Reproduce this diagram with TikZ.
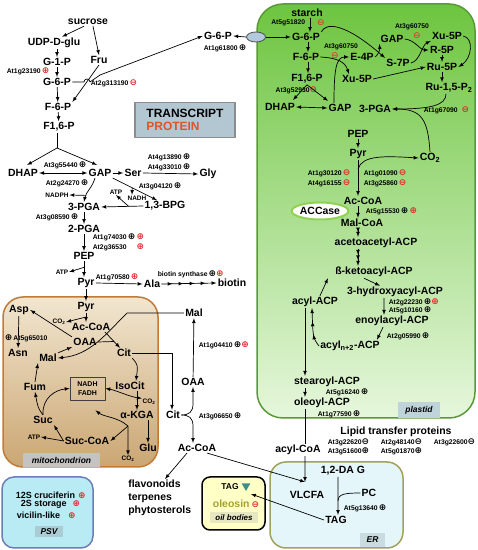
\documentclass[tikz,border=0pt]{standalone}
\usepackage{fontspec}
\setmainfont{Liberation Sans}
\newfontfamily\symbfont{DejaVu Sans}
\usetikzlibrary{shapes.geometric,decorations.markings,calc}
\definecolor{symred}{HTML}{E3262B}
\definecolor{protcol}{HTML}{E0532A}
\definecolor{plastidtop}{HTML}{6DC53F}
\definecolor{plastidbot}{HTML}{E6F7DC}
\definecolor{plastidline}{HTML}{5A9A36}
\definecolor{mitotop}{HTML}{F1E6D0}
\definecolor{mitobot}{HTML}{CBA673}
\definecolor{mitoline}{HTML}{C27B35}
\definecolor{erfill}{HTML}{E5F6FB}
\definecolor{erline}{HTML}{A3A25C}
\definecolor{psvfill}{HTML}{B9EBF5}
\definecolor{psvline}{HTML}{6C7EB6}
\definecolor{oilfill}{HTML}{FFFFC6}
\definecolor{oleosincol}{HTML}{A3A32A}
\definecolor{tagcol}{HTML}{3E8F8C}
\definecolor{legendfill}{HTML}{B3C7D3}
\definecolor{lblplastid}{HTML}{BFD3DB}
\definecolor{lblmito}{HTML}{C3C3C3}
\definecolor{lbler}{HTML}{C9DDE0}
\definecolor{lblpsv}{HTML}{A9CCD5}
\definecolor{lbloil}{HTML}{E7E8C2}
\definecolor{accasecol}{HTML}{8FD150}
\definecolor{ovalfill}{HTML}{B2CADB}
\newcommand{\symTp}{{\symbfont\fontsize{9}{9}\selectfont\textcolor{black}{⊕}}}
\newcommand{\symTm}{{\symbfont\fontsize{9}{9}\selectfont\textcolor{black}{⊖}}}
\newcommand{\symPp}{{\symbfont\fontsize{9}{9}\selectfont\textcolor{symred}{⊕}}}
\newcommand{\symPm}{{\symbfont\fontsize{9}{9}\selectfont\textcolor{symred}{⊖}}}
\tikzset{
  met/.style={font=\fontsize{10.5}{12}\selectfont\bfseries,inner sep=1bp},
  gene/.style={font=\fontsize{6.8}{8}\selectfont\bfseries,inner sep=0.5bp,anchor=west},
  cofactor/.style={font=\fontsize{6.5}{7.5}\selectfont\bfseries,inner sep=0.5bp},
  psvitem/.style={font=\fontsize{9}{10}\selectfont\bfseries,inner sep=0.5bp,anchor=west},
  boxlabel/.style={font=\fontsize{8.5}{10}\selectfont\bfseries\itshape,inner sep=0bp},
  multistep/.style={postaction={decorate},decoration={markings,mark=between positions #1 and 0.95 step #1 with {\arrow{latex}}}},
}
\begin{document}
\begin{tikzpicture}[>=latex,line join=bevel,line width=0.7bp]
\useasboundingbox (0bp,0bp) rectangle (478bp,550bp);
%% compartments
\draw [rounded corners=26bp,line width=1.5bp,draw=plastidline,top color=plastidtop,bottom color=plastidbot] (257bp,132bp) rectangle (475bp,546bp);
\draw [rounded corners=20bp,line width=1.5bp,draw=mitoline,top color=mitotop,bottom color=mitobot] (3bp,83bp) rectangle (158bp,253bp);
\draw [rounded corners=16bp,line width=1.5bp,draw=erline,fill=erfill] (270bp,2bp) rectangle (403bp,88bp);
\draw [rounded corners=12bp,line width=1.5bp,draw=psvline,fill=psvfill] (2bp,2bp) rectangle (93bp,73bp);
\draw [rounded corners=8bp,line width=1.5bp,draw=black,fill=oilfill] (202bp,20bp) rectangle (265bp,73bp);
\node (node_plastid) at (419bp,140bp) [boxlabel,fill=lblplastid,minimum width=42bp,minimum height=16bp] {plastid};
\node (node_mito) at (61.5bp,90bp) [boxlabel,fill=lblmito,minimum width=77bp,minimum height=14bp] {mitochondrion};
\node (node_er) at (372.5bp,10bp) [boxlabel,fill=lbler,minimum width=25bp,minimum height=14bp] {ER};
\node (node_psv) at (49bp,18bp) [boxlabel,fill=lblpsv,minimum width=28bp,minimum height=11bp] {PSV};
\node (node_oil) at (234bp,32.5bp) [boxlabel,fill=lbloil,font=\fontsize{8}{9}\selectfont\bfseries\itshape,minimum width=48bp,minimum height=11bp] {oil bodies};
\node (node_legend) at (185bp,430bp) [draw=black!45,line width=1.5bp,fill=legendfill,minimum width=100bp,minimum height=35bp,align=left,font=\fontsize{12}{13}\selectfont\bfseries] {TRANSCRIPT\\\textcolor{protcol}{PROTEIN}};
%% cytosol
\node (node_sucrose) at (88bp,528bp) [met] {sucrose};
\node (node_udpglu) at (54bp,507bp) [met] {UDP-D-glu};
\node (node_g1p) at (57bp,488bp) [met] {G-1-P};
\node (node_fru) at (99bp,490bp) [met] {Fru};
\node (node_g6p) at (57bp,468bp) [met] {G-6-P};
\node (node_f6p) at (58bp,443bp) [met] {F-6-P};
\node (node_f16p) at (59bp,423bp) [met] {F1,6-P};
\node (node_dhap) at (23bp,377bp) [met] {DHAP};
\node (node_gap) at (100bp,377bp) [met] {GAP};
\node (node_ser) at (133bp,377bp) [met] {Ser};
\node (node_gly) at (208bp,376bp) [met] {Gly};
\node (node_bpg) at (165bp,344bp) [met] {1,3-BPG};
\node (node_pga) at (84bp,343bp) [met] {3-PGA};
\node (node_2pga) at (84bp,321bp) [met] {2-PGA};
\node (node_pep) at (84bp,294bp) [met] {PEP};
\node (node_pyr) at (86bp,267bp) [met] {Pyr};
\node (node_ala) at (152bp,266bp) [met] {Ala};
\node (node_biotin) at (232bp,267bp) [met] {biotin};
\node (node_g6pc) at (218bp,514bp) [met] {G-6-P};
\node (node_transporter) at (256bp,513bp) [ellipse,draw=black!70,fill=ovalfill,line width=0.8bp,minimum width=19bp,minimum height=10bp,inner sep=0bp] {};
\node (node_nadph) at (57bp,355bp) [cofactor] {NADPH};
\node (node_atp1) at (116bp,358bp) [cofactor] {ATP};
\node (node_nadh1) at (137bp,352bp) [cofactor] {NADH};
\node (node_atp2) at (62bp,278bp) [cofactor] {ATP};
\node (node_malc) at (194bp,237bp) [met] {Mal};
\node (node_oaac) at (193bp,168bp) [met] {OAA};
\node (node_citc) at (173bp,135bp) [met] {Cit};
\node (node_accoac) at (197bp,102bp) [met] {Ac-CoA};
\node (node_secondary) at (127bp,71bp) [met,anchor=north west,align=left,font=\fontsize{10.5}{13}\selectfont\bfseries] {flavonoids\\terpenes\\phytosterols};
%% mitochondrion
\node (node_pyrm) at (86bp,243bp) [met] {Pyr};
\node (node_co2m1) at (59bp,228bp) [cofactor] {CO\textsubscript{2}};
\node (node_accoam) at (91bp,223bp) [met] {Ac-CoA};
\node (node_asp) at (19bp,240bp) [met] {Asp};
\node (node_asn) at (18bp,197bp) [met] {Asn};
\node (node_oaam) at (85bp,208bp) [met] {OAA};
\node (node_malm) at (48bp,192bp) [met] {Mal};
\node (node_citm) at (124bp,197bp) [met] {Cit};
\node (node_fum) at (35bp,163bp) [met] {Fum};
\node (node_nadhbox) at (87.5bp,161.5bp) [draw=black!75,line width=0.8bp,minimum width=35bp,minimum height=23bp,inner sep=0.5bp,align=center,font=\fontsize{7}{9}\selectfont\bfseries] {NADH\\FADH};
\node (node_isocit) at (130bp,164bp) [met] {IsoCit};
\node (node_co2m2) at (149bp,148bp) [cofactor] {CO\textsubscript{2}};
\node (node_akga) at (137bp,135bp) [met] {α-KGA};
\node (node_suc) at (43bp,130bp) [met] {Suc};
\node (node_succoa) at (87bp,109bp) [met] {Suc-CoA};
\node (node_atp3) at (34bp,113bp) [cofactor] {ATP};
\node (node_glu) at (148bp,102bp) [met] {Glu};
\node (node_co2m3) at (128bp,91bp) [cofactor] {CO\textsubscript{2}};
%% plastid
\node (node_starch) at (307bp,537bp) [met] {starch};
\node (node_g6pp) at (306bp,513bp) [met] {G-6-P};
\node (node_f6pp) at (306bp,493bp) [met] {F-6-P};
\node (node_f16pp) at (307bp,471bp) [met] {F1,6-P};
\node (node_dhapp) at (280bp,443bp) [met] {DHAP};
\node (node_gapp) at (340bp,442bp) [met] {GAP};
\node (node_e4p) at (362bp,493bp) [met] {E-4P};
\node (node_xu5pa) at (357bp,471bp) [met] {Xu-5P};
\node (node_gapu) at (392bp,511bp) [met] {GAP};
\node (node_s7p) at (398bp,487bp) [met] {S-7P};
\node (node_xu5pb) at (447bp,514bp) [met] {Xu-5P};
\node (node_r5p) at (442bp,500bp) [met] {R-5P};
\node (node_ru5p) at (442bp,483bp) [met] {Ru-5P};
\node (node_rubp) at (449bp,462bp) [met] {Ru-1,5-P\textsubscript{2}};
\node (node_pgap) at (375bp,441bp) [met] {3-PGA};
\node (node_pepp) at (358bp,416bp) [met] {PEP};
\node (node_pyrp) at (358bp,396bp) [met] {Pyr};
\node (node_co2) at (430bp,392bp) [met] {CO\textsubscript{2}};
\node (node_accoap) at (363bp,349bp) [met] {Ac-CoA};
\node (node_accase) at (320bp,339bp) [met,ellipse,draw=accasecol,line width=2bp,fill=white,minimum width=56bp,minimum height=17bp,inner sep=0bp] {ACCase};
\node (node_malcoa) at (362bp,327bp) [met] {Mal-CoA};
\node (node_acacp) at (376bp,307bp) [met] {acetoacetyl-ACP};
\node (node_ketoacp) at (374bp,278bp) [met] {ß-ketoacyl-ACP};
\node (node_hydroxyacp) at (395bp,258bp) [met] {3-hydroxyacyl-ACP};
\node (node_enoylacp) at (392bp,229bp) [met] {enoylacyl-ACP};
\node (node_acylnacp) at (350bp,204bp) [met] {acyl\textsubscript{n+2}-ACP};
\node (node_acylacp) at (315bp,248bp) [met] {acyl-ACP};
\node (node_stearoyl) at (327bp,168bp) [met] {stearoyl-ACP};
\node (node_oleoyl) at (322bp,147bp) [met] {oleoyl-ACP};
\node (node_acylcoa) at (298bp,100bp) [met] {acyl-CoA};
\node (node_ltp) at (396bp,118bp) [met] {Lipid transfer proteins};
%% ER and oil bodies
\node (node_vlcfa) at (307bp,55bp) [met] {VLCFA};
\node (node_dag) at (343bp,79bp) [met] {1,2-DA G};
\node (node_pc) at (369bp,57bp) [met] {PC};
\node (node_tag) at (336bp,30bp) [met] {TAG};
\node (node_tagoil) at (230bp,63bp) [met,font=\fontsize{8.5}{10}\selectfont\bfseries] {TAG};
\node (node_tagtri) at (246bp,64bp) [regular polygon,regular polygon sides=3,shape border rotate=180,fill=tagcol,inner sep=0bp,minimum size=10bp] {};
\node (node_oleosin) at (236bp,46bp) [met,text=oleosincol] {oleosin\hspace{2bp}\symPm};
%% PSV
\node (node_cruciferin) at (15bp,55bp) [psvitem] {12S cruciferin\hspace{3bp}\symPp};
\node (node_storage) at (20bp,46bp) [psvitem] {2S storage\hspace{6bp}\symPp};
\node (node_vicilin) at (16bp,35bp) [psvitem] {vicilin-like\hspace{8bp}\symPp};
%% genes
\node (node_at1g23190) at (6bp,479bp) [gene] {At1g23190\,\symPp};
\node (node_at2g313190) at (90bp,467bp) [gene] {At2g313190\,\symPm};
\node (node_at1g61800) at (203bp,502bp) [gene] {At1g61800\,\symTp};
\node (node_at3g55440) at (43bp,385bp) [gene] {At3g55440\,\symTp};
\node (node_at4g13890) at (147bp,393bp) [gene] {At4g13890\,\symTp};
\node (node_at4g33010) at (147bp,383bp) [gene] {At4g33010\,\symTp};
\node (node_at2g24270) at (45bp,367bp) [gene] {At2g24270\,\symTp};
\node (node_at3g04120) at (138bp,364bp) [gene] {At3g04120\,\symTp};
\node (node_at3g08590) at (35bp,333bp) [gene] {At3g08590\,\symTp};
\node (node_at1g74030) at (92bp,313bp) [gene] {At1g74030\,\symTp\,\symPp};
\node (node_at2g36530) at (92bp,303bp) [gene] {At2g36530\,\phantom{\symTp}\,\symPp};
\node (node_at1g70580) at (95bp,273bp) [gene] {At1g70580\,\symPp};
\node (node_biotinsyn) at (157bp,276bp) [gene] {biotin synthase\,\symTp\symPp};
\node (node_at1g04410) at (198bp,205bp) [gene] {At1g04410\,\symTp\symPp};
\node (node_at3g06650) at (198bp,134bp) [gene] {At3g06650\,\symTp};
\node (node_at5g65010) at (4bp,212bp) [gene] {\symTp\,At5g65010};
\node (node_at5g51820) at (306bp,527bp) [gene,anchor=east] {At5g51820};
\node (node_at5g51820s) at (321bp,527bp) [inner sep=0bp] {\symPm};
\node (node_at3g52930) at (318bp,460bp) [gene,anchor=east] {At3g52930\symPm};
\node (node_at3g60750b) at (341bp,503bp) [gene,anchor=center] {At3g60750};
\node (node_at3g60750bs) at (335bp,494bp) [inner sep=0bp] {\symPm};
\node (node_at3g60750a) at (412bp,523bp) [gene,anchor=center] {At3g60750};
\node (node_at3g60750as) at (417bp,514bp) [inner sep=0bp] {\symPm};
\node (node_at1g67090) at (423bp,440bp) [gene] {At1g67090\hspace{4bp}\symPm};
\node (node_at1g30120) at (307bp,377bp) [gene] {At1g30120\,\symPm};
\node (node_at4g16155) at (307bp,367bp) [gene] {At4g16155\,\symPm};
\node (node_at1g01090) at (363bp,377bp) [gene] {At1g01090\,\symPm};
\node (node_at3g25860) at (363bp,367bp) [gene] {At3g25860\,\symPm};
\node (node_at5g15530) at (365bp,339bp) [gene] {At5g15530\,\symTp\,\symPp};
\node (node_at2g22230) at (388bp,248bp) [gene] {At2g22230\,\symTp\symPp};
\node (node_at5g10160) at (388bp,240bp) [gene] {At5g10160\,\symTp};
\node (node_at2g05990) at (386bp,214bp) [gene] {At2g05990\,\symTp};
\node (node_at5g16240) at (325bp,158bp) [gene] {At5g16240\,\symTp};
\node (node_at1g77590) at (317bp,136bp) [gene] {At1g77590\,\symTp};
\node (node_at3g22620) at (327bp,108bp) [gene] {At3g22620\symTm};
\node (node_at2g48140) at (380bp,108bp) [gene] {At2g48140\symTm};
\node (node_at3g22600) at (433bp,108bp) [gene] {At3g22600\symTm};
\node (node_at3g51600) at (327bp,99bp) [gene] {At3g51600\symTp};
\node (node_at5g01870) at (380bp,99bp) [gene] {At5g01870\symTp};
\node (node_at5g13640) at (343bp,42bp) [gene] {At5g13640\,\symTp};
%% cytosol edges
\draw [black,->] ([xshift=-4bp]node_sucrose.south) -- ([xshift=8bp]node_udpglu.north);
\draw [black,->] ([xshift=5bp]node_sucrose.south) -- (node_fru.north);
\draw [black,->] (node_g1p.north |- node_udpglu.south) -- (node_g1p.north);
\draw [black,->] (node_g1p) -- (node_g6p);
\draw [black,->] (node_g6p) -- (node_f6p);
\draw [black,->] (node_f6p) -- (node_f16p);
\draw [black,->] (node_fru.south) -- (node_f6p.north east);
\draw [black,->] (node_g6p.east) -- (84bp,468bp) arc (180:0:3bp) -- (100bp,475bp) -- (node_g6pc.west);
\draw [black,->] (node_transporter.west) -- (node_g6pc.east);
\draw [black,->] (node_transporter.east) -- (node_g6pp.west);
\coordinate (coord_split) at (57bp,402bp);
\draw [black] (node_f16p.south -| coord_split) -- (coord_split);
\draw [black,->] (coord_split) -- ([xshift=4bp,yshift=3bp]node_dhap.north);
\draw [black,->] (coord_split) -- ([xshift=-3bp,yshift=3bp]node_gap.north);
\draw [black,<->] (node_dhap.east) -- (node_gap.west);
\draw [black,->] (node_gap.east) -- (node_ser.west);
\draw [black,->] (node_ser.east) -- (node_gly.west);
\draw [black,->] (node_gap.south east) -- ([xshift=-8bp]node_bpg.north);
\coordinate (coord_nadh) at ($(node_gap.south east)!0.44!([xshift=-8bp]node_bpg.north)$);
\draw [black,->] (coord_nadh) -- ([xshift=-5bp]node_nadh1.north);
\draw [black,->] (node_bpg.west) -- (node_pga.east);
\coordinate (coord_atp1) at ($(node_bpg.west)!0.35!(node_pga.east)$);
\draw [black,->] (coord_atp1) -- (node_atp1.south);
\draw [black,->] ([xshift=-5bp]node_gap.south) .. controls (92bp,362bp) and (86bp,358bp) .. (node_pga.north);
\coordinate (coord_nadph) at (86.1bp,354.6bp);
\draw [black,->] (coord_nadph) -- (node_nadph.east);
\draw [black,->] (node_pga) -- (node_2pga);
\draw [black,->] (node_2pga) -- (node_pep);
\draw [black,->] (node_pep.south) -- (node_pep.south |- node_pyr.north);
\coordinate (coord_atp2) at ($(node_pep.south)!0.4!(node_pep.south |- node_pyr.north)$);
\draw [black,->] (coord_atp2) -- (node_atp2.east);
\draw [black,->] (node_pyr.east) -- (node_ala.west);
\draw [black,multistep=0.2,->] (node_ala.east) -- (node_biotin.west);
\draw [black,->] (node_pyr) -- (node_pyrm);
\draw [black,->] (node_malc.west) -- (127bp,237bp) .. controls (105bp,215bp) and (90bp,195bp) .. (node_malm.east);
\draw [black,->] (node_citm.east) -| ([xshift=-1bp]node_citc.north);
\draw [black,->] (node_citc.east) .. controls (189bp,135bp) and (193bp,138bp) .. (193bp,146bp) -- (node_oaac.south);
\draw [black,->] (node_citc.east) .. controls (189bp,135bp) and (193bp,132bp) .. (193bp,124bp) -- ([xshift=-4bp]node_accoac.north);
\draw [black,->] (node_oaac) -- (node_malc);
\draw [black,->] ([xshift=-10bp]node_accoac.south) -- ([xshift=38bp]node_secondary.north west);
\draw [black,->] ([xshift=10bp]node_accoac.south) -- ([xshift=-2bp,yshift=8bp]node_vlcfa.north);
%% mitochondrion edges
\draw [black,->] (node_pyrm.south) -- (node_pyrm.south |- node_accoam.north);
\coordinate (coord_co2m1) at ($(node_pyrm.south)!0.45!(node_pyrm.south |- node_accoam.north)$);
\draw [black,->] (coord_co2m1) -- (node_co2m1.east);
\draw [black,->] (node_oaam.north west) -- (node_asp.east);
\draw [black,->] (node_asp) -- (node_asn);
\draw [black,->] ([xshift=14bp]node_accoam.south) -- ([xshift=-4bp]node_citm.north);
\coordinate (coord_citin) at ($([xshift=14bp]node_accoam.south)!0.6!([xshift=-4bp]node_citm.north)$);
\draw [black] (node_oaam.east) -- (coord_citin);
\draw [black,->] (node_malm.north east) -- (node_oaam.south west);
\draw [black,->] (node_fum.north) -- (node_malm.south west);
\draw [black,->] (node_suc.north) .. controls (38bp,142bp) .. (node_fum.south);
\draw [black,->] (node_suc.north) .. controls (42bp,152bp) and (55bp,160bp) .. (node_nadhbox.west);
\draw [black,->] (node_succoa.west) -- (node_suc.south east);
\draw [black,->] (node_succoa.west) -- (node_atp3.east);
\coordinate (coord_akga) at ([xshift=-9bp,yshift=-6bp]node_akga.south);
\draw [black,->] (coord_akga) -- (node_succoa.east);
\draw [black,->] (coord_akga) -- (node_co2m3.north);
\draw [black,->] (coord_akga) .. controls (118bp,133bp) and (104bp,133bp) .. ([xshift=8bp,yshift=-10bp]node_nadhbox.south);
\draw [black,->] (node_akga.south -| node_glu) -- (node_glu.north);
\draw [black,->] (node_citm.south east) .. controls (138bp,185bp) .. ([xshift=6bp]node_isocit.north);
\draw [black,->] (node_akga.north |- node_isocit.south) -- (node_akga.north);
\coordinate (coord_iso) at ($(node_akga.north |- node_isocit.south)!0.35!(node_akga.north)$);
\draw [black,->] (coord_iso) -- (node_co2m2.north west);
\draw [black,->] (coord_iso) .. controls (128bp,154bp) and (115bp,160bp) .. (node_nadhbox.east);
%% plastid edges
\draw [black,->] ([xshift=3bp]node_starch.south) -- ([xshift=4bp]node_g6pp.north);
\draw [black,->] ([xshift=2bp]node_g6pp.south) -- ([xshift=2bp]node_f6pp.north);
\draw [black,->] ([xshift=2bp]node_f6pp.south) -- ([xshift=1bp]node_f16pp.north);
\draw [black,->] (node_f16pp.south) -- ([xshift=13bp,yshift=2bp]node_dhapp.north);
\draw [black,->] (node_f16pp.south) -- ([xshift=-12bp,yshift=2bp]node_gapp.north);
\draw [black,<->] (node_dhapp.east) -- (node_gapp.west);
\draw [black,->] (node_g6pp.north east) .. controls (326bp,528bp) and (345bp,527bp) .. (node_s7p.north west);
\draw [black,->] (node_f6pp.east) .. controls (338bp,492bp) and (345bp,488bp) .. ([xshift=-8bp]node_xu5pa.north);
\draw [black,->] ([xshift=-6bp]node_gapp.north) .. controls (334bp,480bp) and (336bp,493bp) .. (node_e4p.west);
\draw [black,->] (node_e4p.east) .. controls (378bp,495bp) and (380bp,500bp) .. (node_gapu.south west);
\draw [black,->] (node_gapu.east) .. controls (415bp,510bp) and (420bp,500bp) .. (node_r5p.west);
\draw [black,->] (node_s7p.east) .. controls (420bp,489bp) and (422bp,505bp) .. (node_xu5pb.south west);
\draw [black,->] (node_xu5pb.east) .. controls (474bp,512bp) and (472bp,492bp) .. (node_ru5p.east);
\draw [black,->] (node_r5p) -- (node_ru5p);
\draw [black,->] (node_xu5pa.east) -- (node_ru5p.west);
\draw [black,->] (node_ru5p.south) -- (node_ru5p.south |- node_rubp.north);
\draw [black,->] ([xshift=-3bp]node_rubp.south) .. controls (446bp,445bp) and (432bp,441bp) .. (node_pgap.east);
\draw [black,->] (node_co2.north) .. controls (428bp,430bp) and (422bp,441bp) .. (node_pgap.east);
\draw [black,->] (node_pepp) -- (node_pyrp);
\draw [black,->] (node_pyrp.south) -- (node_pyrp.south |- node_accoap.north);
\coordinate (coord_pyrco2) at ($(node_pyrp.south)!0.25!(node_pyrp.south |- node_accoap.north)$);
\draw [black,->] (coord_pyrco2) .. controls (362bp,395bp) and (385bp,394bp) .. (node_co2.west);
\draw [black,->] (node_accoap.south -| node_pyrp) -- (node_malcoa.north -| node_pyrp);
\draw [black,multistep=0.5,->] (node_malcoa.south -| node_pyrp) -- (node_acacp.north -| node_pyrp);
\draw [black,multistep=0.333,->] (node_acacp.south -| node_pyrp) -- (node_ketoacp.north -| node_pyrp);
\draw [black,->] ([xshift=5bp]node_acylacp.north) -- ([xshift=-6bp]node_ketoacp.south west);
\draw [black,->] ([xshift=-10bp]node_ketoacp.south) -- ([xshift=-15bp]node_hydroxyacp.north);
\draw [black,->] ([xshift=-11bp]node_hydroxyacp.south) -- ([xshift=-8bp]node_enoylacp.north);
\draw [black,->] ([xshift=-9bp]node_enoylacp.south) -- ([xshift=-4bp]node_acylnacp.north east);
\draw [black,multistep=0.333,->] (node_acylnacp.west) .. controls (313bp,212bp) .. ([xshift=-3bp]node_acylacp.south);
\draw [black,->] ([xshift=-10bp]node_acylacp.south) -- ([xshift=-10bp]node_acylacp.south |- node_stearoyl.north);
\draw [black,->] ([xshift=-22bp]node_stearoyl.south) -- ([xshift=-22bp]node_stearoyl.south |- node_oleoyl.north);
\draw [black] ([xshift=-17bp]node_oleoyl.south) -- ([xshift=-17bp]node_oleoyl.south |- node_acylcoa.north);
\draw [black,->] ([xshift=7bp]node_acylcoa.south) -- ([xshift=-2bp,yshift=8bp]node_vlcfa.north);
%% ER edges
\draw [black,->] ([xshift=-5bp]node_dag.south) -- ([xshift=2bp]node_tag.north);
\coordinate (coord_pcjoin) at (338bp,49bp);
\draw [black] (node_pc.west) .. controls (345bp,57bp) and (338bp,56bp) .. (coord_pcjoin);
\draw [black,->] (node_tag.west) -- ([xshift=5bp,yshift=-8bp]node_tagtri.center);
%
\end{tikzpicture}
\end{document}
